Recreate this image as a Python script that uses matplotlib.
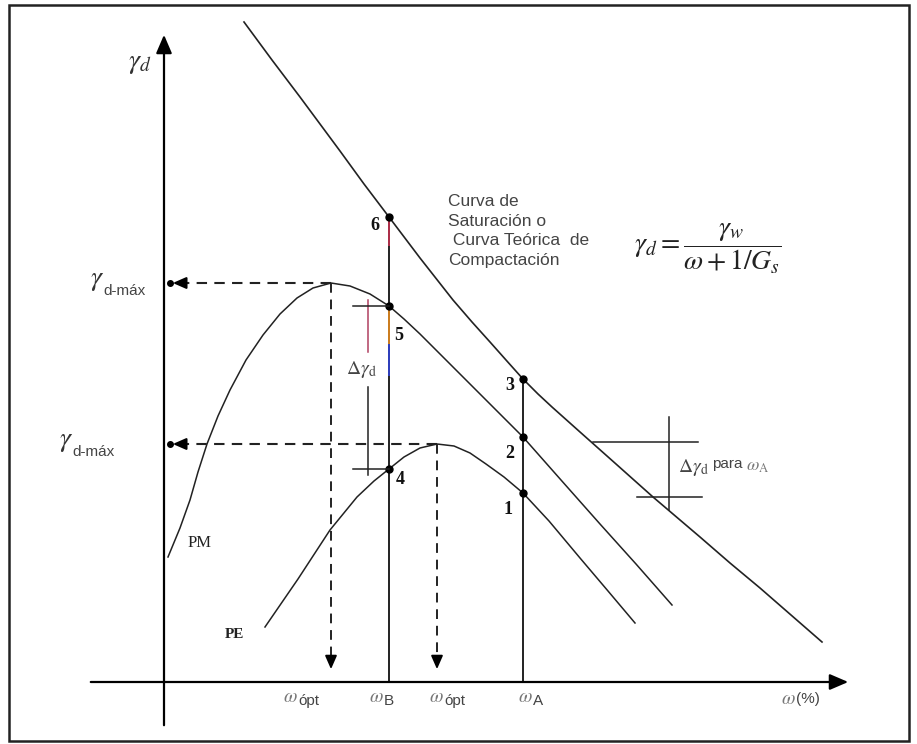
import matplotlib
matplotlib.use('Agg')
import matplotlib.pyplot as plt
from matplotlib.patches import Rectangle

# Values (arbitrary units, origin at the axes crossing)

# Saturation curve / theoretical compaction curve
sat_w = [80, 108, 136, 176, 200, 225, 256, 289, 308, 326, 342, 359, 374, 388,
         416, 452, 489, 536, 566, 596, 627, 658]
sat_g = [660, 622, 585, 531, 498, 465, 424, 382, 360, 340, 322, 303, 288, 275,
         250, 218, 185, 145, 119, 94, 67, 40]

# Modified Proctor (PM)
pm_w = [4, 16, 26, 34, 43, 54, 66, 82, 99, 116, 133, 149, 167, 186, 206, 225,
        240, 256, 276, 296, 327, 359, 397, 436, 472, 508]
pm_g = [125, 154, 182, 210, 238, 266, 292, 322, 347, 368, 384, 394, 399, 396,
        388, 376, 363, 348, 328, 308, 277, 245, 202, 158, 118, 77]

# Standard Proctor (PE)
pe_w = [101, 134, 166, 193, 210, 225, 240, 256, 273, 290, 306, 322, 340, 359,
        385, 416, 444, 471]
pe_g = [55, 103, 152, 185, 201, 213, 225, 234, 238, 236, 229, 218, 205, 189,
        161, 124, 91, 59]

# Optimum points
w_opt_pm, g_max_pm = 167, 399
w_opt_pe, g_max_pe = 273, 238

# Water contents A and B, and the numbered points on them
w_B, w_A = 225, 359
pt_names = ['6', '5', '4', '3', '2', '1']
pt_w = [225, 225, 225, 359, 359, 359]
pt_g = [465, 376, 213, 303, 245, 189]

plt.rcParams['mathtext.fontset'] = 'stix'
plt.rcParams['font.family'] = ['DejaVu Sans']
sans = ['Liberation Sans Narrow', 'Liberation Sans', 'DejaVu Sans']
serif = ['Liberation Serif', 'DejaVu Serif']
grey = '#444444'

fig = plt.figure(figsize=(9.17, 7.44), dpi=100)
ax = fig.add_axes([0, 0, 1, 1])
ax.set_xlim(-164, 753)
ax.set_ylim(-62, 682)
ax.axis('off')

# picture frame
ax.add_patch(Rectangle((0.0098, 0.004), 0.982, 0.989, transform=ax.transAxes,
                       fill=False, lw=1.8, ec='#222222'))

# axes with arrows
head = '-|>,head_length=0.7,head_width=0.3'
ax.annotate('', xy=(0, 650), xytext=(0, -46),
            arrowprops=dict(arrowstyle=head, lw=1.6, color='k', mutation_scale=16))
ax.annotate('', xy=(687, 0), xytext=(-76, 0),
            arrowprops=dict(arrowstyle=head, lw=1.6, color='k', mutation_scale=16))

# curves
ax.plot(sat_w, sat_g, color='#222222', lw=1.2)
ax.plot(pm_w, pm_g, color='#222222', lw=1.1)
ax.plot(pe_w, pe_g, color='#222222', lw=1.1)

# vertical lines at w_B and w_A
ax.plot([w_B, w_B], [0, pt_g[0]], color='#222222', lw=1.4)
ax.plot([w_A, w_A], [0, pt_g[3]], color='#222222', lw=1.4)

# jpeg colour fringes on the w_B line
ax.plot([w_B, w_B], [437, 465], color='#b0304a', lw=1.4)
ax.plot([w_B, w_B], [337, 372], color='#d08020', lw=1.4)
ax.plot([w_B, w_B], [307, 337], color='#3040c0', lw=1.4)

# dashed guides to the optimum points
small = '-|>,head_length=0.8,head_width=0.35'
for w0, g0 in [(w_opt_pm, g_max_pm), (w_opt_pe, g_max_pe)]:
    ax.plot([w0, 22], [g0, g0], color='#222222', lw=1.5, ls=(0, (5, 3.5)))
    ax.annotate('', xy=(6, g0), xytext=(24, g0),
                arrowprops=dict(arrowstyle=small, lw=1.5, color='k', mutation_scale=10))
    ax.plot([w0, w0], [g0, 26], color='#222222', lw=1.4, ls=(0, (5, 3.5)))
    ax.annotate('', xy=(w0, 10), xytext=(w0, 28),
                arrowprops=dict(arrowstyle=small, lw=1.4, color='k', mutation_scale=10))

# points
ax.plot(pt_w, pt_g, 'o', color='k', ms=5)
ax.plot([6, 6], [g_max_pm, g_max_pe], 'o', color='k', ms=4)
lbl_dx = [-14, 10, 11, -13, -13, -15]
lbl_dy = [-8, -29, -11, -6, -16, -17]
for name, w0, g0, dx, dy in zip(pt_names, pt_w, pt_g, lbl_dx, lbl_dy):
    ax.text(w0 + dx, g0 + dy, name, fontsize=13, fontweight='bold',
            family=serif, ha='center', va='center', color='#111111')

# delta gamma at w_B
ax.plot([204, 204], [330, 382], color='#b04060', lw=1.1)
ax.plot([204, 204], [207, 295], color='#222222', lw=1.1)
ax.plot([189, w_B], [376, 376], color='#222222', lw=1.1)
ax.plot([189, w_B], [213, 213], color='#222222', lw=1.1)
ax.text(197, 312, r'$\Delta\gamma_{\rm d}$', fontsize=14, ha='center',
        va='center', color=grey)

# delta gamma for w_A
ax.plot([505, 505], [172, 265], color='#222222', lw=1.1)
ax.plot([429, 534], [240, 240], color='#222222', lw=1.1)
ax.plot([473, 538], [185, 185], color='#222222', lw=1.1)
ax.text(514, 214, r'$\Delta\gamma_{\rm d}$', fontsize=14, ha='left',
        va='center', color=grey)
ax.text(548, 218, 'para', fontsize=11, family=sans, ha='left',
        va='center', color=grey)
ax.text(582, 216, r'$\omega_{\rm A}$', fontsize=13, ha='left',
        va='center', color='#777777')

# curve names
ax.text(24, 139, 'PM', fontsize=12, family=serif, ha='left', va='center',
        color='#222222')
ax.text(70, 48, 'PE', fontsize=11, family=serif, fontweight='bold',
        ha='center', va='center', color='#222222')

ax.text(284, 488, 'Curva de\nSaturación o\n Curva Teórica  de\nCompactación',
        fontsize=12.5, family=sans, ha='left', va='top', linespacing=1.38,
        color=grey)
ax.text(544, 433, r'$\gamma_d = \dfrac{\gamma_w}{\omega + 1/G_s}$',
        fontsize=20, ha='center', va='center', color='#222222')

# y-axis labels
ax.text(-24, 620, r'$\gamma_d$', fontsize=20, ha='center', va='center',
        color='#333333')
for gy, gx in [(g_max_pm, -67), (g_max_pe, -98)]:
    ax.text(gx, gy + 4, r'$\gamma$', fontsize=20, ha='center', va='center',
            color='#333333')
    ax.text(gx + 6, gy - 8, 'd-máx', fontsize=11, family=sans, ha='left',
            va='center', color=grey)

# x-axis labels
x_lbls = [(w_opt_pm - 48, 'ópt'), (w_B - 20, 'B'), (w_opt_pe - 8, 'ópt'),
          (w_A - 5, 'A')]
for lx, sub in x_lbls:
    ax.text(lx, -14, r'$\omega$', fontsize=14, ha='left', va='center',
            color='#777777')
    ax.text(lx + 15, -19, sub, fontsize=11, family=sans, ha='left',
            va='center', color=grey)
ax.text(617, -16, r'$\omega$', fontsize=14, ha='left', va='center',
        color='#777777')
ax.text(632, -17, '(%)', fontsize=11, family=sans, ha='left', va='center',
        color=grey)

plt.savefig('out.png', dpi=100)
